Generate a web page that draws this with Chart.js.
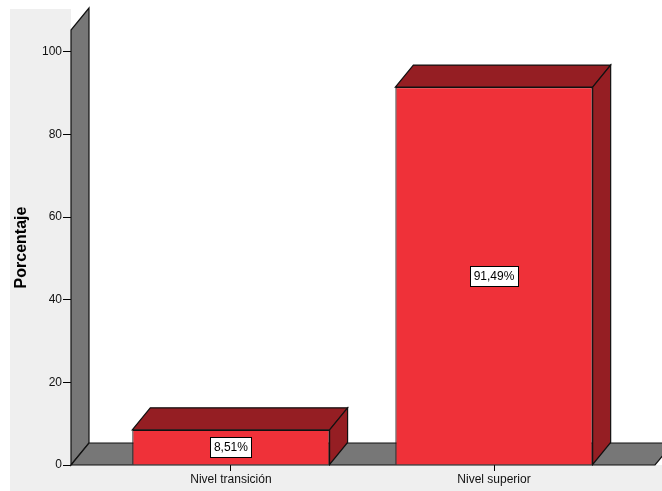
<!DOCTYPE html>
<html>
<head>
<meta charset="utf-8">
<script src="https://cdn.jsdelivr.net/npm/chart.js@4/dist/chart.umd.min.js"></script>
<style>
  html, body { margin: 0; padding: 0; background: #ffffff; }
  #wrap { width: 662px; height: 491px; position: relative; }
</style>
</head>
<body>
<div id="wrap"><canvas id="c" width="662" height="491"></canvas></div>
<script>
// ---- data ----
const categories = ['Nivel transición', 'Nivel superior'];
const percentages = [8.51, 91.49];
const yTickValues = [0, 20, 40, 60, 80, 100];
const axisTitle = 'Porcentaje';

// ---- style ----
const FONT = '"Liberation Sans", Arial, sans-serif';
const DEPTH_X = 18, DEPTH_Y = -22;
const FRONT = '#ef3139';
const DARK = '#951e23';
const WALL = '#777777';
const FRAME_BG = '#efefef';

function fmt(v) { return v.toFixed(2).replace('.', ',') + '%'; }

const scene3d = {
  id: 'scene3d',
  beforeDraw(chart) {
    const ctx = chart.ctx, a = chart.chartArea;
    ctx.save();
    ctx.fillStyle = '#ffffff';
    ctx.fillRect(0, 0, chart.width, chart.height);
    ctx.fillStyle = FRAME_BG;
    ctx.fillRect(10, 9, chart.width - 10, chart.height - 9);
    ctx.fillStyle = '#ffffff';
    ctx.fillRect(a.left, 9, chart.width - a.left, a.bottom - 9);
    ctx.restore();
  },
  beforeDatasetsDraw(chart) {
    const ctx = chart.ctx, a = chart.chartArea;
    ctx.save();
    ctx.lineJoin = 'miter';
    ctx.strokeStyle = '#111';
    ctx.lineWidth = 1.2;
    ctx.fillStyle = WALL;
    // wall
    ctx.beginPath();
    ctx.moveTo(a.left, a.bottom);
    ctx.lineTo(a.left, a.top);
    ctx.lineTo(a.left + DEPTH_X, a.top + DEPTH_Y);
    ctx.lineTo(a.left + DEPTH_X, a.bottom + DEPTH_Y);
    ctx.closePath();
    ctx.fill(); ctx.stroke();
    // floor
    ctx.beginPath();
    ctx.moveTo(a.left, a.bottom);
    ctx.lineTo(a.left + DEPTH_X, a.bottom + DEPTH_Y);
    ctx.lineTo(a.right + DEPTH_X, a.bottom + DEPTH_Y);
    ctx.lineTo(a.right, a.bottom);
    ctx.closePath();
    ctx.fill(); ctx.stroke();
    ctx.restore();
  },
  afterDatasetsDraw(chart) {
    const ctx = chart.ctx;
    const meta = chart.getDatasetMeta(0);
    ctx.save();
    ctx.strokeStyle = '#111';
    ctx.lineWidth = 1.2;
    meta.data.forEach((bar, i) => {
      const p = bar.getProps(['x', 'y', 'base', 'width'], true);
      const l = p.x - p.width / 2, r = p.x + p.width / 2;
      const t = Math.min(p.y, p.base), b = Math.max(p.y, p.base);
      ctx.fillStyle = DARK;
      // top face
      ctx.beginPath();
      ctx.moveTo(l, t);
      ctx.lineTo(l + DEPTH_X, t + DEPTH_Y);
      ctx.lineTo(r + DEPTH_X, t + DEPTH_Y);
      ctx.lineTo(r, t);
      ctx.closePath();
      ctx.fill(); ctx.stroke();
      // side face
      ctx.beginPath();
      ctx.moveTo(r, t);
      ctx.lineTo(r + DEPTH_X, t + DEPTH_Y);
      ctx.lineTo(r + DEPTH_X, b + DEPTH_Y);
      ctx.lineTo(r, b);
      ctx.closePath();
      ctx.fill(); ctx.stroke();
      // value label
      const txt = fmt(percentages[i]);
      ctx.font = '12px ' + FONT;
      const w = ctx.measureText(txt).width;
      const cy = (t + b) / 2;
      const bw = Math.round(w + 7), bh = 20;
      const bx = Math.round(p.x - bw / 2) + 0.5, by = Math.round(cy - bh / 2) + 0.5;
      ctx.fillStyle = '#ffffff';
      ctx.fillRect(bx, by, bw, bh);
      ctx.lineWidth = 1;
      ctx.strokeStyle = '#000';
      ctx.strokeRect(bx, by, bw, bh);
      ctx.fillStyle = '#000';
      ctx.textAlign = 'center';
      ctx.textBaseline = 'middle';
      ctx.fillText(txt, p.x, cy + 1);
      ctx.strokeStyle = '#111';
      ctx.lineWidth = 1.2;
    });
    ctx.restore();
  }
};

new Chart(document.getElementById('c'), {
  type: 'bar',
  data: {
    datasets: [{
      data: categories.map((c, i) => ({ x: i, y: percentages[i] })),
      backgroundColor: FRONT,
      borderColor: '#111',
      borderWidth: 1.2,
      barPercentage: 1.0,
      categoryPercentage: 0.75
    }]
  },
  options: {
    responsive: false,
    devicePixelRatio: 1,
    animation: false,
    events: [],
    layout: { padding: { left: 10, top: 30, right: 7, bottom: 0 } },
    plugins: { legend: { display: false }, tooltip: { enabled: false } },
    scales: {
      x: {
        type: 'linear',
        offset: false,
        min: -0.608,
        max: 1.612,
        grid: { offset: false, display: true, drawOnChartArea: false, drawTicks: true, tickLength: 6, color: '#000', lineWidth: 1 },
        border: { display: false },
        afterBuildTicks(scale) { scale.ticks = categories.map((c, i) => ({ value: i })); },
        afterFit(scale) { scale.height = 26; },
        ticks: {
          autoSkip: false,
          maxRotation: 0,
          padding: 1,
          color: '#111',
          font: { family: FONT, size: 12 },
          callback: (v, idx) => categories[idx]
        }
      },
      y: {
        min: 0,
        max: 105.3,
        grid: { display: true, drawOnChartArea: false, drawTicks: true, tickLength: 8, color: '#000', lineWidth: 1 },
        border: { display: false },
        afterBuildTicks(scale) { scale.ticks = yTickValues.map(v => ({ value: v })); },
        afterFit(scale) { scale.width = 61; },
        ticks: {
          padding: 1,
          color: '#111',
          font: { family: FONT, size: 12 }
        },
        title: {
          display: true,
          text: axisTitle,
          color: '#000',
          padding: { top: 2, bottom: 0 },
          font: { family: FONT, size: 16, weight: 'bold' }
        }
      }
    }
  },
  plugins: [scene3d]
});
</script>
</body>
</html>
